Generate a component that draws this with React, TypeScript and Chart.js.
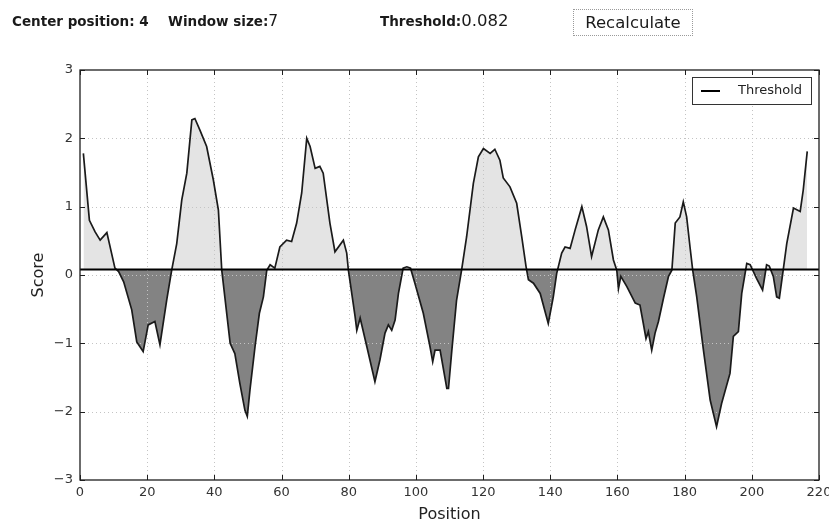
import React, { useEffect, useRef } from "react";
import { Chart, registerables } from "chart.js";

Chart.register(...registerables);

// ---- data ----
const positions = [
  1, 2.8, 4.5, 6, 8, 10.4, 11.5, 13, 15.4, 16.9, 18.8, 20.3, 22.3, 23.8, 25.8, 27.3,
  28.8, 30.3, 31.8, 33.3, 34.2, 35.7, 37.7, 39.7, 41.2, 42.2,
  44.7, 46.1, 47.6, 49.1, 49.8, 50.6, 52.1, 53.4, 54.6, 55.6, 56.6, 58,
  59.5, 61.5, 63, 64.5, 66, 67.5, 68.5, 70, 71.4, 72.4, 74.4, 75.9, 78.4, 79.4, 79.9,
  81.9, 82.4, 83.4, 85.4, 87.8, 89.3, 90.8, 91.8, 92.8, 93.8, 94.8, 96.2, 97.3, 98.4,
  99.7, 102.2, 104.2, 105, 105.7, 107.2, 109.2, 109.7, 110.7, 112.1, 113.6,
  115.1, 117.1, 118.6, 120.1, 122.1, 123.5, 125, 126, 128, 130, 131.5, 132.8,
  133.5, 135, 137, 139.4, 140.9, 141.9, 143.4, 144.4, 145.9, 147.4, 149.4, 150.8,
  152.3, 154.3, 155.8, 157.3, 158.8, 159.8, 160.3, 161, 162.8, 165.3, 166.7, 167.7,
  168.5, 169.2, 170.2, 171.2, 172.2, 173.7, 175.2, 176.2, 177.2, 178.6, 179.6, 180.6,
  181.6, 182.4, 183.6, 185.6, 187.6, 189.5, 191, 193.5, 194.5, 196, 197, 198.5, 199.5,
  201.4, 203.2, 204.4, 205.2, 206.4, 207.4, 208.2, 209.2, 210.4, 212.4, 214.4, 215.3, 216.5,
];
const scores = [
  1.78, 0.8, 0.63, 0.51, 0.62, 0.1, 0.05, -0.1, -0.51, -0.98, -1.12, -0.73, -0.68, -1.02, -0.37, 0.07,
  0.46, 1.1, 1.49, 2.27, 2.29, 2.12, 1.88, 1.39, 0.95, 0.07,
  -1.0, -1.15, -1.59, -1.98, -2.07, -1.68, -1.05, -0.56, -0.32, 0.07, 0.15, 0.1,
  0.41, 0.51, 0.49, 0.76, 1.2, 2.0, 1.88, 1.56, 1.59, 1.49, 0.76, 0.34, 0.51, 0.32, 0.07,
  -0.61, -0.81, -0.63, -1.05, -1.56, -1.24, -0.85, -0.73, -0.81, -0.66, -0.27, 0.1, 0.12, 0.1,
  -0.12, -0.56, -1.05, -1.27, -1.1, -1.1, -1.66, -1.66, -1.1, -0.37, 0.07,
  0.56, 1.34, 1.73, 1.85, 1.78, 1.84, 1.68, 1.42, 1.29, 1.05, 0.56, 0.12,
  -0.07, -0.12, -0.27, -0.71, -0.32, 0.02, 0.32, 0.41, 0.39, 0.66, 1.0, 0.71,
  0.27, 0.66, 0.85, 0.66, 0.22, 0.07, -0.2, -0.02, -0.17, -0.41, -0.44, -0.71,
  -0.93, -0.83, -1.1, -0.85, -0.68, -0.34, -0.02, 0.07, 0.76, 0.85, 1.07, 0.85,
  0.41, 0.07, -0.32, -1.1, -1.83, -2.22, -1.88, -1.44, -0.9, -0.83, -0.27, 0.17, 0.15,
  -0.05, -0.22, 0.15, 0.13, -0.02, -0.32, -0.34, 0.02, 0.46, 0.98, 0.93, 1.24, 1.81,
];
const thresholdValue = 0.082;
const xTickValues = [0, 20, 40, 60, 80, 100, 120, 140, 160, 180, 200, 220];
const yTickValues = [-3, -2, -1, 0, 1, 2, 3];
const xRange = [0, 220];
const yRange = [-3, 3];

const FONT = '"DejaVu Sans", sans-serif';

const decorPlugin = {
  id: "decor",
  afterDatasetDraw(chart: any, args: any) {
    if (args.index !== 0) return;
    const { ctx, chartArea: a, scales } = chart;
    ctx.save();
    ctx.strokeStyle = "#c4c4c4";
    ctx.lineWidth = 1;
    ctx.setLineDash([1, 3]);
    for (const v of xTickValues) {
      if (v === xRange[0] || v === xRange[1]) continue;
      const x = Math.round(scales.x.getPixelForValue(v)) + 0.5;
      ctx.beginPath();
      ctx.moveTo(x, a.top);
      ctx.lineTo(x, a.bottom);
      ctx.stroke();
    }
    for (const v of yTickValues) {
      if (v === yRange[0] || v === yRange[1]) continue;
      const y = Math.round(scales.y.getPixelForValue(v)) + 0.5;
      ctx.beginPath();
      ctx.moveTo(a.left, y);
      ctx.lineTo(a.right, y);
      ctx.stroke();
    }
    ctx.restore();
  },
  afterDraw(chart: any) {
    const { ctx, chartArea: a, scales } = chart;
    ctx.save();
    // frame
    ctx.strokeStyle = "#1e1e1e";
    ctx.lineWidth = 1.3;
    ctx.strokeRect(a.left, a.top, a.right - a.left, a.bottom - a.top);
    // inward ticks
    ctx.lineWidth = 1;
    const tl = 5;
    for (const v of xTickValues) {
      const x = Math.round(scales.x.getPixelForValue(v)) + 0.5;
      ctx.beginPath();
      ctx.moveTo(x, a.bottom);
      ctx.lineTo(x, a.bottom - tl);
      ctx.moveTo(x, a.top);
      ctx.lineTo(x, a.top + tl);
      ctx.stroke();
    }
    for (const v of yTickValues) {
      const y = Math.round(scales.y.getPixelForValue(v)) + 0.5;
      ctx.beginPath();
      ctx.moveTo(a.left, y);
      ctx.lineTo(a.left + tl, y);
      ctx.moveTo(a.right, y);
      ctx.lineTo(a.right - tl, y);
      ctx.stroke();
    }
    // legend
    const lx = a.right - 127;
    const ly = a.top + 7;
    const lw = 119;
    const lh = 27;
    ctx.fillStyle = "#ffffff";
    ctx.fillRect(lx, ly, lw, lh);
    ctx.strokeStyle = "#333";
    ctx.lineWidth = 1;
    ctx.strokeRect(lx + 0.5, ly + 0.5, lw, lh);
    ctx.strokeStyle = "#000";
    ctx.lineWidth = 2;
    ctx.beginPath();
    ctx.moveTo(lx + 9, ly + 14);
    ctx.lineTo(lx + 28, ly + 14);
    ctx.stroke();
    ctx.fillStyle = "#222";
    ctx.font = `13px ${FONT}`;
    ctx.textBaseline = "middle";
    ctx.textAlign = "left";
    ctx.fillText("Threshold", lx + 46, ly + 14);
    // axis titles
    ctx.font = `16px ${FONT}`;
    ctx.textAlign = "center";
    ctx.textBaseline = "alphabetic";
    ctx.fillText("Position", (a.left + a.right) / 2, 519);
    ctx.translate(43, (a.top + a.bottom) / 2);
    ctx.rotate(-Math.PI / 2);
    ctx.fillText("Score", 0, 0);
    ctx.restore();
  },
};

export default function App() {
  const ref = useRef<HTMLCanvasElement>(null);

  useEffect(() => {
    const pts = positions.map((x, i) => ({ x, y: scores[i] }));
    const chart = new Chart(ref.current as HTMLCanvasElement, {
      type: "line",
      data: {
        datasets: [
          {
            label: "area",
            data: pts,
            borderWidth: 0,
            borderColor: "rgba(0,0,0,0)",
            pointRadius: 0,
            fill: { value: thresholdValue, above: "#e4e4e4", below: "#838383" } as any,
            order: 2,
          },
          {
            label: "Score",
            data: pts,
            borderColor: "#1a1a1a",
            borderWidth: 1.7,
            pointRadius: 0,
            fill: false,
            order: 1,
          },
          {
            label: "Threshold",
            data: [
              { x: xRange[0], y: thresholdValue },
              { x: xRange[1], y: thresholdValue },
            ],
            borderColor: "#000",
            borderWidth: 2,
            pointRadius: 0,
            fill: false,
            order: 0,
          },
        ],
      },
      options: {
        responsive: false,
        animation: false,
        layout: { padding: { left: 0, top: 70, right: 10, bottom: 0 } },
        plugins: {
          legend: { display: false },
          tooltip: { enabled: false },
        },
        elements: { line: { tension: 0 } },
        scales: {
          x: {
            type: "linear",
            min: xRange[0],
            max: xRange[1],
            afterBuildTicks: (s: any) => {
              s.ticks = xTickValues.map((v) => ({ value: v }));
            },
            afterFit: (s: any) => {
              s.height = 42;
              s.paddingLeft = 0;
              s.paddingRight = 0;
            },
            grid: { display: false, drawTicks: false },
            border: { display: false },
            ticks: {
              autoSkip: false,
              maxRotation: 0,
              padding: 5,
              color: "#333",
              font: { family: FONT, size: 13 },
            },
          },
          y: {
            type: "linear",
            min: yRange[0],
            max: yRange[1],
            afterBuildTicks: (s: any) => {
              s.ticks = yTickValues.map((v) => ({ value: v }));
            },
            afterFit: (s: any) => {
              s.width = 80;
              s.paddingTop = 0;
              s.paddingBottom = 0;
            },
            grid: { display: false, drawTicks: false },
            border: { display: false },
            ticks: {
              autoSkip: false,
              padding: 7,
              color: "#333",
              font: { family: FONT, size: 13 },
              callback: (v: any) => (Number(v) < 0 ? "\u2212" + Math.abs(Number(v)) : String(v)),
            },
          },
        },
      },
      plugins: [decorPlugin],
    });
    return () => chart.destroy();
  }, []);

  const textStyle: React.CSSProperties = {
    position: "absolute",
    top: 10,
    lineHeight: "22px",
    whiteSpace: "nowrap",
    color: "#1a1a1a",
  };

  return (
    <div
      style={{
        position: "absolute",
        left: 0,
        top: 0,
        width: 829,
        height: 522,
        background: "#fff",
        fontFamily: FONT,
        overflow: "hidden",
      }}
    >
      <canvas ref={ref} width={829} height={522} style={{ position: "absolute", left: 0, top: 0 }} />
      <div style={{ ...textStyle, left: 12, fontSize: 13.5, fontWeight: "bold" }}>Center position: 4</div>
      <div style={{ ...textStyle, left: 168, fontSize: 13.5 }}>
        <span style={{ fontWeight: "bold" }}>Window size:</span>
        <span style={{ fontSize: 15.5 }}>7</span>
      </div>
      <div style={{ ...textStyle, left: 380, fontSize: 13.5 }}>
        <span style={{ fontWeight: "bold" }}>Threshold:</span>
        <span style={{ fontSize: 16.5 }}>0.082</span>
      </div>
      <div
        style={{
          position: "absolute",
          left: 573,
          top: 9,
          width: 120,
          height: 27,
          border: "1px dotted #9a9a9a",
          background: "#fff",
          boxSizing: "border-box",
          fontSize: 16.5,
          lineHeight: "25px",
          textAlign: "center",
          color: "#1a1a1a",
        }}
      >
        Recalculate
      </div>
    </div>
  );
}
